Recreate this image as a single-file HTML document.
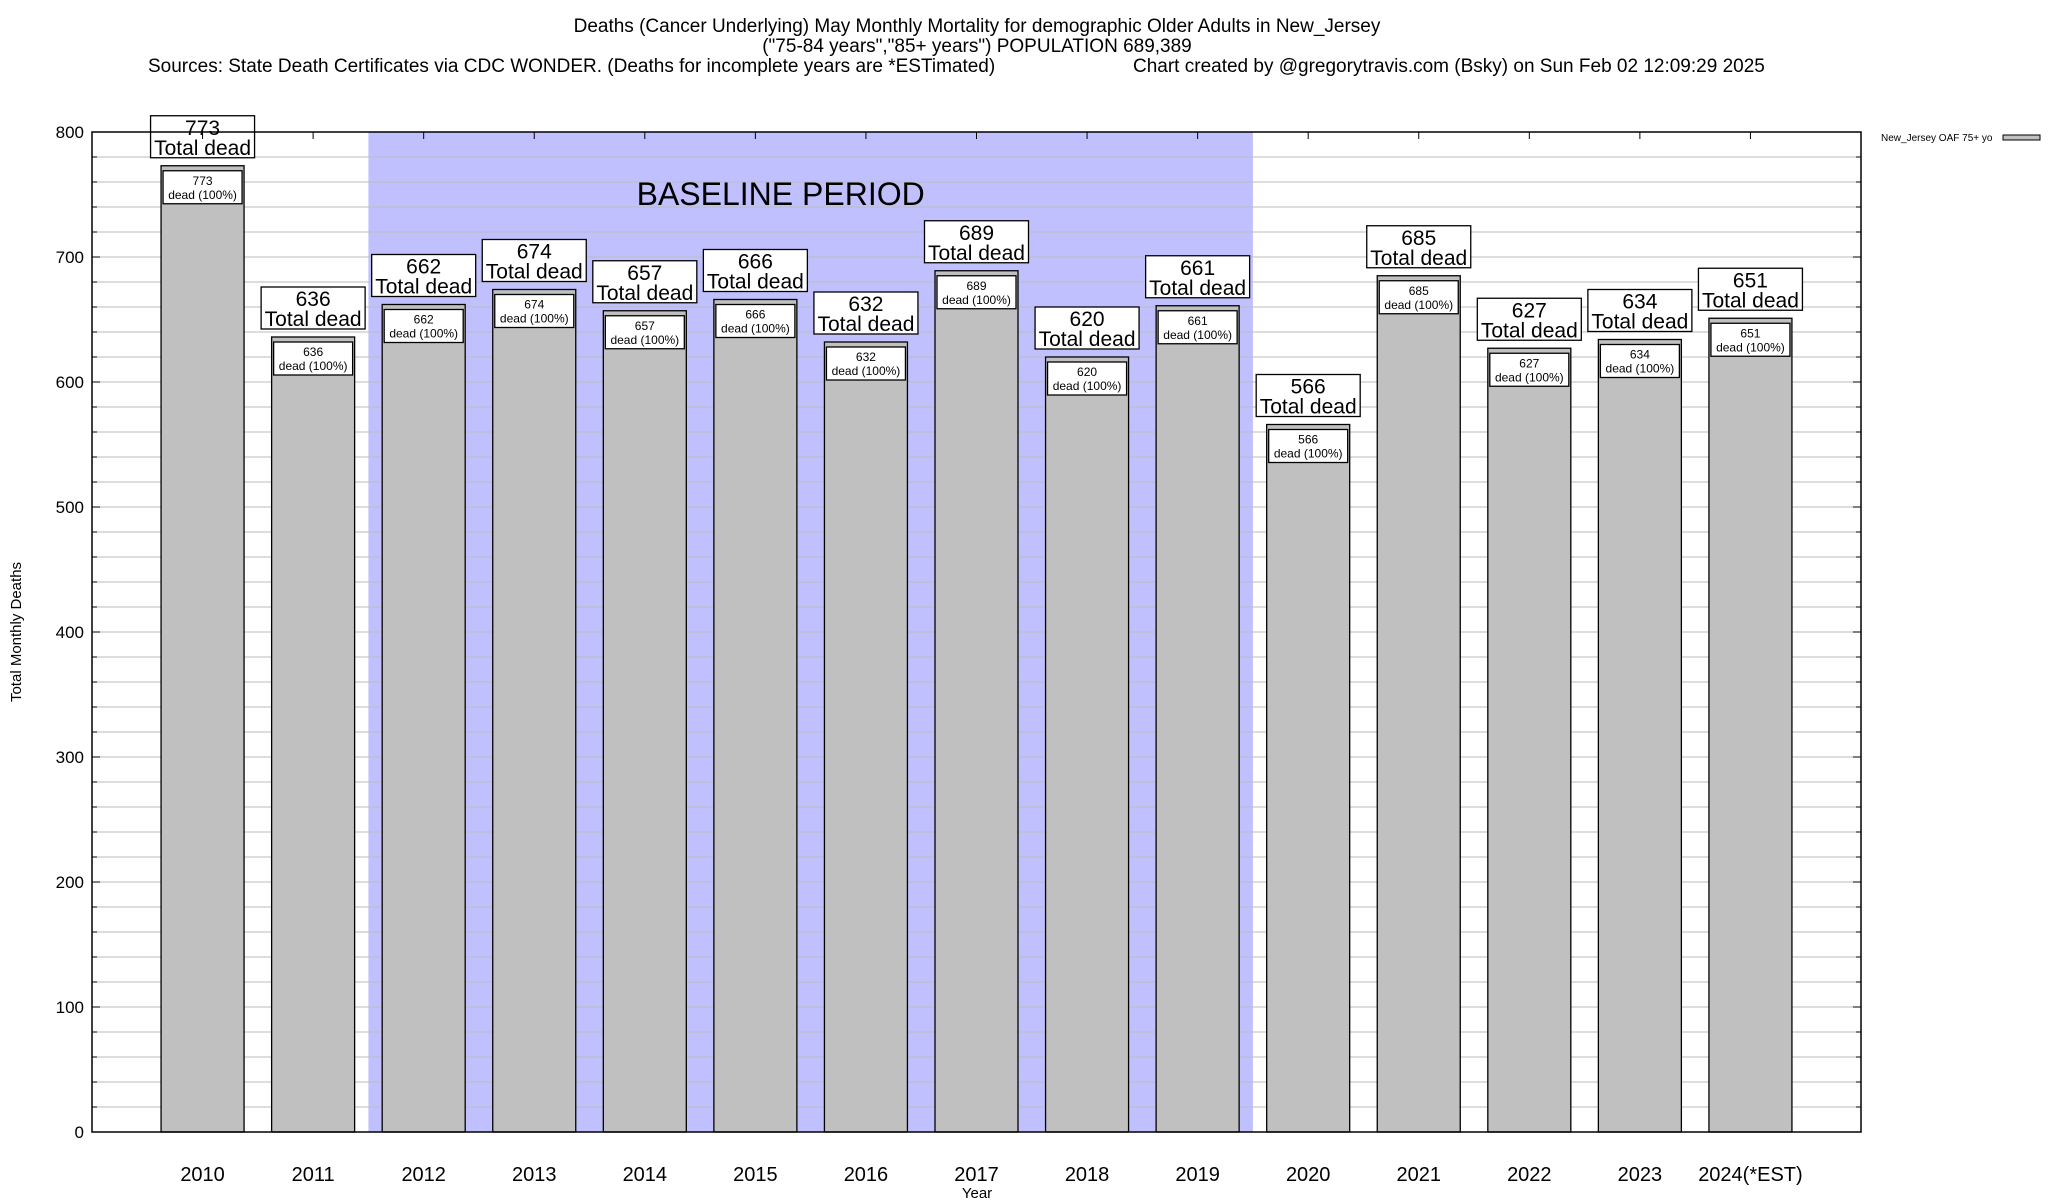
<!DOCTYPE html>
<html><head><meta charset="utf-8"><style>
html,body{margin:0;padding:0;background:#fff;}
svg{display:block;font-family:"Liberation Sans",Arial,sans-serif;}
</style></head><body>
<svg id="chart" width="2048" height="1200" viewBox="0 0 2048 1200" xmlns="http://www.w3.org/2000/svg">
<text x="977" y="32" font-size="19" text-anchor="middle">Deaths (Cancer Underlying) May Monthly Mortality for demographic Older Adults in New_Jersey</text>
<text x="977" y="52" font-size="19" text-anchor="middle">("75-84 years","85+ years") POPULATION 689,389</text>
<text x="148" y="72" font-size="19">Sources: State Death Certificates via CDC WONDER. (Deaths for incomplete years are *ESTimated)</text>
<text x="1133" y="72" font-size="19">Chart created by @gregorytravis.com (Bsky) on Sun Feb 02 12:09:29 2025</text>
<g id="plot"></g>
</svg>
<script>
const categories = ["2010","2011","2012","2013","2014","2015","2016","2017","2018","2019","2020","2021","2022","2023","2024(*EST)"];
const deaths = [773,636,662,674,657,666,632,689,620,661,566,685,627,634,651];
const yTicks = [0,100,200,300,400,500,600,700,800];
const baselineRange = [2012, 2019];

const NS = "http://www.w3.org/2000/svg";
const L = 92, R = 1861, T = 132, B = 1132;
const yMax = 800;
const slot = (R - L) / (categories.length + 1);
function x(i){ return L + slot * (i + 1); }
function y(v){ return B - (v / yMax) * (B - T); }
const g = document.getElementById('plot');
function mk(tag, attrs, parent){
  const e = document.createElementNS(NS, tag);
  for (const k in attrs) e.setAttribute(k, attrs[k]);
  (parent || g).appendChild(e);
  return e;
}

// baseline shading
const bi0 = categories.indexOf(String(baselineRange[0]));
const bi1 = categories.indexOf(String(baselineRange[1]));
const shade = mk('rect', {x: x(bi0) - slot/2, y: T, width: (bi1 - bi0 + 1) * slot, height: B - T, fill: '#c0c0ff'});



// grid
for (let v = 20; v < yMax; v += 20) {
  const ln = mk('line', {x1: L, x2: R, y1: y(v), y2: y(v), stroke: '#bbbbbb', 'stroke-width': 1});
  
  
  const tk = mk('line', {x1: L, x2: L + (v % 100 === 0 ? 8 : 5), y1: y(v), y2: y(v), stroke: '#000'});
  
  
  const tk2 = mk('line', {x1: R, x2: R - (v % 100 === 0 ? 8 : 5), y1: y(v), y2: y(v), stroke: '#000'});
  
  
}
yTicks.forEach(v => {
  const t = mk('text', {x: L - 8, y: y(v) + 6, 'font-size': 17, 'text-anchor': 'end'});
  t.textContent = v;
  
  
});

const bt = mk('text', {x: x(bi0 + (bi1 - bi0) / 2) - 30, y: 205, 'font-size': 32, 'text-anchor': 'middle'});
bt.textContent = 'BASELINE PERIOD';



// bars
const bw = 83;
deaths.forEach((v, i) => {
  const cx = x(i), top = y(v);
  const bar = mk('rect', {x: cx - bw/2, y: top, width: bw, height: B - top, fill: '#c0c0c0', stroke: '#000', 'stroke-width': 1.3});
  
  
  const ib = mk('rect', {x: cx - bw/2 + 2, y: top + 5, width: bw - 4, height: 33, fill: '#fff', stroke: '#000', 'stroke-width': 1.3});
  
  
  const t1 = mk('text', {x: cx, y: top + 19, 'font-size': 12, 'text-anchor': 'middle'});
  t1.textContent = v;
  
  
  const t2 = mk('text', {x: cx, y: top + 33, 'font-size': 12, 'text-anchor': 'middle'});
  t2.textContent = 'dead (100%)';
  
  
  const ob = mk('rect', {x: cx - 52, y: top - 50, width: 104, height: 42, fill: '#fff', stroke: '#000', 'stroke-width': 1.3});
  
  
  const o1 = mk('text', {x: cx, y: top - 31, 'font-size': 21, 'text-anchor': 'middle'});
  o1.textContent = v;
  
  
  const o2 = mk('text', {x: cx, y: top - 11, 'font-size': 21, 'text-anchor': 'middle'});
  o2.textContent = 'Total dead';
  
  
  const xl = mk('text', {x: cx, y: 1181, 'font-size': 20, 'text-anchor': 'middle'});
  xl.textContent = categories[i];
  
  
  const tt = mk('line', {x1: cx, x2: cx, y1: T, y2: T + 7, stroke: '#000'});
  
  
});

// frame
const fr = mk('rect', {x: L, y: T, width: R - L, height: B - T, fill: 'none', stroke: '#000', 'stroke-width': 1.5});



const yt = mk('text', {x: 0, y: 0, 'font-size': 15, 'text-anchor': 'middle', transform: 'translate(21,632) rotate(-90)'});
yt.textContent = 'Total Monthly Deaths';


const xt = mk('text', {x: 977, y: 1198, 'font-size': 15, 'text-anchor': 'middle'});
xt.textContent = 'Year';



const lg = mk('text', {x: 1881, y: 141, 'font-size': 10});
lg.textContent = 'New_Jersey OAF 75+ yo';


const ls = mk('rect', {x: 2003, y: 135, width: 37, height: 5, fill: '#c0c0c0', stroke: '#000'});


</script>
</body></html>
